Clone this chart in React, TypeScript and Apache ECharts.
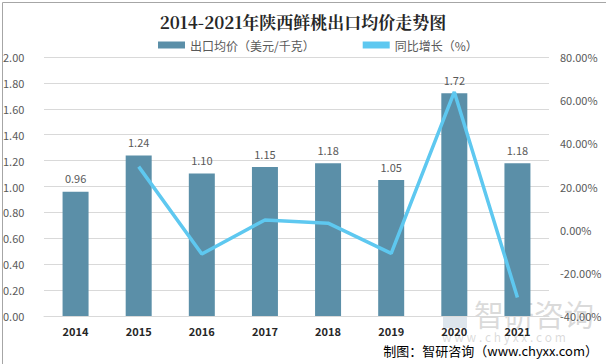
import React, { useEffect, useRef } from "react";
import * as echarts from "echarts";

const years = ["2014", "2015", "2016", "2017", "2018", "2019", "2020", "2021"];
const avgPrice = [0.96, 1.24, 1.1, 1.15, 1.18, 1.05, 1.72, 1.18];
const yoyGrowth: (number | null)[] = [null, 29.2, -11.3, 4.5, 3.0, -11.0, 63.8, -31.4];
const leftTicks = { min: 0, max: 2, interval: 0.2 };
const rightTicks = { min: -40, max: 80, interval: 20 };

export default function App() {
  const ref = useRef<HTMLDivElement>(null);
  useEffect(() => {
    document.body.style.margin = "0";
    const chart = echarts.init(ref.current!, null, { renderer: "svg" });
    const font = "'Microsoft YaHei', 'Noto Sans CJK SC', sans-serif";
    chart.setOption({
      animation: false,
      backgroundColor: "#ffffff",
      textStyle: { fontFamily: font },
      title: {
        text: "2014-2021年陕西鲜桃出口均价走势图",
        left: "center",
        top: 8,
        textStyle: {
          fontSize: 17,
          fontWeight: "bold",
          color: "#262626",
          fontFamily: "'Noto Serif CJK SC', 'Noto Sans CJK SC', serif",
        },
      },
      legend: {
        top: 34,
        left: 153,
        itemGap: 48,
        itemWidth: 27,
        itemHeight: 7,
        textStyle: { fontSize: 12, color: "#595959", fontFamily: font },
        data: [
          { name: "出口均价（美元/千克）", icon: "rect" },
          { name: "同比增长（%）", icon: "rect" },
        ],
      },
      grid: { left: 36, right: 57, top: 57, bottom: 48 },
      xAxis: {
        type: "category",
        data: years,
        axisLine: { lineStyle: { color: "#d9d9d9" } },
        axisTick: { show: false },
        axisLabel: { color: "#262626", fontWeight: "bold", fontSize: 11, margin: 9 },
      },
      yAxis: [
        {
          type: "value",
          min: leftTicks.min,
          max: leftTicks.max,
          interval: leftTicks.interval,
          axisLine: { show: false },
          axisTick: { show: false },
          splitLine: { lineStyle: { color: "#d9d9d9" } },
          axisLabel: {
            color: "#595959",
            fontSize: 11,
            formatter: (v: number) => v.toFixed(2),
            margin: 11,
            align: "left",
            padding: [0, 0, 0, -30],
          },
        },
        {
          type: "value",
          min: rightTicks.min,
          max: rightTicks.max,
          interval: rightTicks.interval,
          axisLine: { show: false },
          axisTick: { show: false },
          splitLine: { show: false },
          axisLabel: {
            color: "#595959",
            fontSize: 11,
            formatter: (v: number) => v.toFixed(2) + "%",
            margin: 11,
          },
        },
      ],
      series: [
        {
          name: "出口均价（美元/千克）",
          type: "bar",
          data: avgPrice,
          barWidth: 26,
          itemStyle: { color: "#5b8fa8" },
          label: {
            show: true,
            position: "top",
            distance: 8,
            color: "#595959",
            fontSize: 11,
            formatter: (p: any) => p.value.toFixed(2),
          },
        },
        {
          name: "同比增长（%）",
          type: "line",
          yAxisIndex: 1,
          data: yoyGrowth,
          symbol: "none",
          lineStyle: { color: "#5ec8f0", width: 3.5 },
          itemStyle: { color: "#5ec8f0" },
        },
      ],
      graphic: [
        {
          type: "rect",
          left: 0,
          top: 0,
          shape: { width: 605, height: 363 },
          style: { fill: "none", stroke: "#a6a6a6", lineWidth: 1 },
          silent: true,
        },
        {
          type: "rect",
          left: 443,
          top: 300,
          shape: { width: 24, height: 28 },
          style: { fill: "rgba(120,150,180,0.25)" },
          silent: true,
        },
        {
          type: "text",
          left: 474,
          top: 298,
          style: {
            text: "智研咨询",
            fontSize: 30,
            fill: "rgba(150,150,150,0.35)",
            fontFamily: font,
          },
          silent: true,
        },
        {
          type: "text",
          left: 442,
          top: 330,
          style: {
            text: "w w w . c h y x x . c o m",
            fontSize: 12,
            fill: "rgba(150,150,150,0.35)",
            fontFamily: font,
          },
          silent: true,
        },
        {
          type: "text",
          right: 8,
          top: 344,
          style: {
            text: "制图：智研咨询（www.chyxx.com）",
            fontSize: 13,
            fill: "#000000",
            fontFamily: font,
          },
          silent: true,
        },
      ],
    });
    return () => chart.dispose();
  }, []);
  return <div ref={ref} style={{ position: "absolute", left: 0, top: 0, width: 606, height: 364 }} />;
}
